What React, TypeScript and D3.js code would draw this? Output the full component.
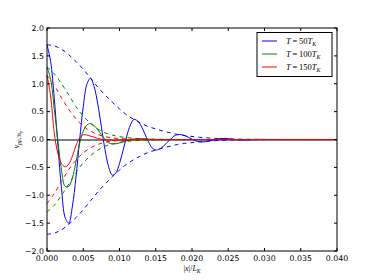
import React from 'react';
import * as d3 from 'd3';

const W = 374;
const H = 280;

const xTicks = [0, 0.005, 0.01, 0.015, 0.02, 0.025, 0.03, 0.035, 0.04];
const yTicks = [-2, -1.5, -1, -0.5, 0, 0.5, 1, 1.5, 2];
const temps = ['50', '100', '150'];
const colors = ['#0000ff', '#008000', '#ff0000'];

// x grid for the oscillating curves (step 0.0005 up to 0.030, then tail)
const solidX = [...d3.range(61).map((i) => +(i * 0.0005).toFixed(4)), 0.035, 0.04];
// x grid for the envelopes (step 0.001 up to 0.030, then tail)
const envX = [...d3.range(31).map((i) => +(i * 0.001).toFixed(3)), 0.035, 0.04];

const blueSolid = [
  1.70, 1.40, 0.74, -0.10, -0.88, -1.40, -1.50, -1.20, -0.67, -0.01,
  0.59, 0.99, 1.10, 0.95, 0.64, 0.23, -0.18, -0.49, -0.64, -0.60,
  -0.43, -0.19, 0.06, 0.26, 0.36, 0.33, 0.24, 0.10, -0.04, -0.15,
  -0.19, -0.17, -0.13, -0.06, 0.00, 0.06, 0.087, 0.087, 0.069, 0.039,
  0.006, -0.024, -0.042, -0.044, -0.037, -0.022, -0.006, 0.009, 0.018, 0.020,
  0.015, 0.006, -0.002, -0.006, -0.008, -0.007, -0.004, 0.0, 0.002, 0.002,
  0.001, 0, 0,
];
const greenSolid = [
  1.30, 1.08, 0.55, -0.02, -0.55, -0.84, -0.84, -0.69, -0.40, -0.07,
  0.15, 0.26, 0.286, 0.248, 0.176, 0.087, 0.002, -0.058, -0.08, -0.077,
  -0.063, -0.043, -0.022, -0.004, 0.008, 0.014, 0.015, 0.012, 0.007, 0.002,
  -0.001, -0.003, -0.003, -0.002, -0.001, 0, 0, 0, 0, 0,
  0, 0, 0, 0, 0, 0, 0, 0, 0, 0,
  0, 0, 0, 0, 0, 0, 0, 0, 0, 0,
  0, 0, 0,
];
const redSolid = [
  1.15, 0.78, 0.12, -0.25, -0.43, -0.49, -0.44, -0.30, -0.11, 0.03,
  0.085, 0.08, 0.06, 0.04, 0.02, 0.005, -0.005, -0.01, -0.012, -0.012,
  -0.01, -0.007, -0.004, -0.002, -0.001, 0, 0, 0, 0, 0,
  0, 0, 0, 0, 0, 0, 0, 0, 0, 0,
  0, 0, 0, 0, 0, 0, 0, 0, 0, 0,
  0, 0, 0, 0, 0, 0, 0, 0, 0, 0,
  0, 0, 0,
];

const blueEnv = [
  1.70, 1.68, 1.62, 1.52, 1.40, 1.26, 1.10, 0.94, 0.80, 0.67,
  0.55, 0.44, 0.36, 0.29, 0.23, 0.19, 0.15, 0.12, 0.09, 0.07,
  0.055, 0.04, 0.03, 0.022, 0.016, 0.011, 0.008, 0.005, 0.003, 0.002,
  0.001, 0, 0,
];
const greenEnv = [
  1.30, 1.18, 1.00, 0.80, 0.59, 0.42, 0.29, 0.19, 0.12, 0.08,
  0.05, 0.035, 0.022, 0.014, 0.009, 0.006, 0.004, 0.002, 0.001, 0,
  0, 0, 0, 0, 0, 0, 0, 0, 0, 0,
  0, 0, 0,
];
const redEnv = [
  1.15, 0.97, 0.75, 0.54, 0.37, 0.24, 0.15, 0.09, 0.05, 0.03,
  0.017, 0.009, 0.005, 0.002, 0.001, 0, 0, 0, 0, 0,
  0, 0, 0, 0, 0, 0, 0, 0, 0, 0,
  0, 0, 0,
];

const solids = [blueSolid, greenSolid, redSolid];
const envs = [blueEnv, greenEnv, redEnv];

const left = 47, right = 337, top = 28, bottom = 251;
const x = d3.scaleLinear().domain([0, 0.04]).range([left, right]);
const y = d3.scaleLinear().domain([-2, 2]).range([bottom, top]);

const line = d3
  .line<[number, number]>()
  .x((d) => x(d[0]))
  .y((d) => y(d[1]))
  .curve(d3.curveCatmullRom.alpha(0.5));

const fx = d3.format('.3f');
const fy = d3.format('.1f');

const tickFont = "'DejaVu Sans', sans-serif";
const mathFont = "'Liberation Serif', 'DejaVu Serif', serif";

export default function App() {
  const tl = 3;
  return (
    <svg
      width={W}
      height={H}
      style={{ position: 'absolute', left: 0, top: 0, background: '#fff' }}
    >
      <rect x={0} y={0} width={W} height={H} fill="#fff" />
      {/* zero line */}
      <line x1={left} x2={right} y1={Math.round(y(0))} y2={Math.round(y(0))} stroke="#000" strokeWidth={1} />
      {solids.map((s, i) => (
        <g key={i}>
          <path
            d={line(solidX.map((xv, j) => [xv, s[j]]) as [number, number][]) || ''}
            fill="none"
            stroke={colors[i]}
            strokeWidth={1}
          />
          <path
            d={line(envX.map((xv, j) => [xv, envs[i][j]]) as [number, number][]) || ''}
            fill="none"
            stroke={colors[i]}
            strokeWidth={1}
            strokeDasharray="4,4"
          />
          <path
            d={line(envX.map((xv, j) => [xv, -envs[i][j]]) as [number, number][]) || ''}
            fill="none"
            stroke={colors[i]}
            strokeWidth={1}
            strokeDasharray="4,4"
          />
        </g>
      ))}
      {/* frame */}
      <rect x={left} y={top} width={right - left} height={bottom - top} fill="none" stroke="#000" strokeWidth={1} />
      {xTicks.map((t) => (
        <g key={'x' + t}>
          <line x1={x(t)} x2={x(t)} y1={bottom} y2={bottom - tl} stroke="#000" />
          <line x1={x(t)} x2={x(t)} y1={top} y2={top + tl} stroke="#000" />
          <text x={x(t)} y={261} textAnchor="middle" fontFamily={tickFont} fontSize={7.8} fill="#000">
            {fx(t)}
          </text>
        </g>
      ))}
      {yTicks.map((t) => (
        <g key={'y' + t}>
          <line x1={left} x2={left + tl} y1={y(t)} y2={y(t)} stroke="#000" />
          <line x1={right} x2={right - tl} y1={y(t)} y2={y(t)} stroke="#000" />
          <text x={44} y={y(t) + 2.8} textAnchor="end" fontFamily={tickFont} fontSize={7.8} fill="#000">
            {fy(t)}
          </text>
        </g>
      ))}
      {/* x label */}
      <text x={(left + right) / 2} y={271} textAnchor="middle" fontFamily={mathFont} fontSize={8} fill="#000">
        <tspan>|</tspan>
        <tspan fontStyle="italic">x</tspan>
        <tspan>|/</tspan>
        <tspan fontStyle="italic">L</tspan>
        <tspan fontStyle="italic" fontSize={5.6} dy={1.6}>K</tspan>
      </text>
      {/* y label */}
      <text
        transform={`translate(19,${(top + bottom) / 2}) rotate(-90)`}
        textAnchor="middle"
        fontFamily={mathFont}
        fontSize={8}
        fill="#000"
      >
        <tspan fontStyle="italic">v</tspan>
        <tspan fontStyle="italic" fontSize={5.6} dy={1.6}>pρ</tspan>
        <tspan fontSize={5.6}>,3</tspan>
        <tspan fontStyle="italic" fontSize={5.6}>s</tspan>
        <tspan fontStyle="italic" fontSize={4.2} dy={1.2}>p</tspan>
      </text>
      {/* legend */}
      <rect x={257} y={32.5} width={75} height={44} fill="#fff" stroke="#000" strokeWidth={1} />
      {temps.map((t, i) => {
        const ly = 41 + i * 13;
        return (
          <g key={t}>
            <line x1={262} x2={277} y1={ly} y2={ly} stroke={colors[i]} strokeWidth={1} />
            <text x={286} y={ly + 3} fontFamily={mathFont} fontSize={8.5} fill="#000">
              <tspan fontStyle="italic">T</tspan>
              <tspan>{'\u2009=\u2009' + t}</tspan>
              <tspan fontStyle="italic">T</tspan>
              <tspan fontStyle="italic" fontSize={6} dy={1.8}>K</tspan>
            </text>
          </g>
        );
      })}
    </svg>
  );
}
